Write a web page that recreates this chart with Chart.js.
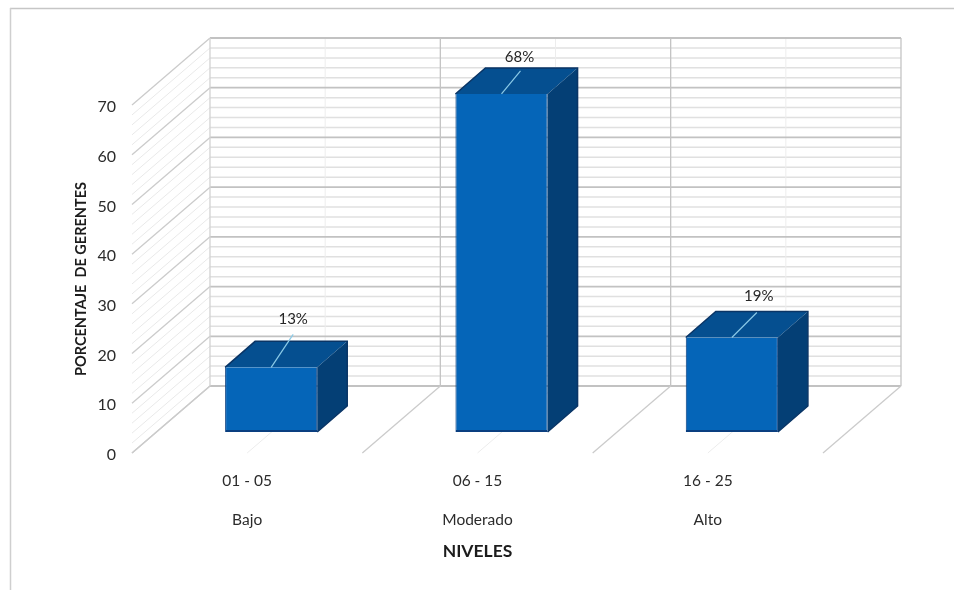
<!DOCTYPE html>
<html lang="es">
<head>
<meta charset="utf-8">
<title>Niveles</title>
<script src="https://cdn.jsdelivr.net/npm/chart.js@4"></script>
<style>
  html, body { margin: 0; padding: 0; background: #fff; }
  #wrap { position: relative; width: 954px; height: 590px; }
</style>
</head>
<body>
<div id="wrap"><canvas id="chart"></canvas></div>
<script>
// Porcentaje de gerentes por nivel, as a 3D-looking column chart.
const RANGES = ["01 - 05", "06 - 15", "16 - 25"];
const LEVELS = ["Bajo", "Moderado", "Alto"];
const PERCENT = [13, 68, 19];
const Y_TICKS_MAX = 70;
const Y_STEP = 10;
const MINOR_STEP = 2;

const FONT = "Lato, 'Open Sans', sans-serif";

// Projection of the box: the y scale lives on the front plane of the floor,
// the walls sit WALL_* behind it, the columns stand BAR_* into the floor.
const WALL_DX = 78, WALL_DY = -67;
const BAR_DX = 24, BAR_DY = -21;
const DEPTH_DX = 30, DEPTH_DY = -26;

// Where each leader line ends and its label sits, from the column's top centre.
const LEADERS = [
  { ex: 22, ey: -33, tx: 22, ty: -48 },
  { ex: 19, ey: -23, tx: 18, ty: -37 },
  { ex: 25, ey: -25, tx: 27, ty: -41 },
];

function seg(ctx, x1, y1, x2, y2, color, width) {
  ctx.beginPath();
  ctx.moveTo(x1, y1);
  ctx.lineTo(x2, y2);
  ctx.strokeStyle = color;
  ctx.lineWidth = width;
  ctx.stroke();
}

function poly(ctx, pts, fill) {
  ctx.beginPath();
  pts.forEach((p, i) => (i ? ctx.lineTo(p[0], p[1]) : ctx.moveTo(p[0], p[1])));
  ctx.closePath();
  ctx.fillStyle = fill;
  ctx.fill();
}

// Frame, back wall, side wall and floor, all taken from the chart's scales.
const wallsPlugin = {
  id: "walls",
  beforeDatasetsDraw(chart) {
    const { ctx, scales: { x, y }, chartArea: area, width, height } = chart;
    const left = area.left, right = area.right, bottom = area.bottom;
    const backL = left + WALL_DX, backR = right + WALL_DX;

    ctx.save();
    seg(ctx, 10, 8.5, width, 8.5, "#c6c6c6", 1.5);
    seg(ctx, 10.5, 8, 10.5, height, "#cfcfcf", 1.5);

    // minor lines first so the major ones land on top
    for (let v = 0; v <= Y_TICKS_MAX; v += MINOR_STEP) {
      if (v % Y_STEP === 0) continue;
      const py = y.getPixelForValue(v);
      seg(ctx, backL, py + WALL_DY, backR, py + WALL_DY, "#e0e0e0", 1.5);
      seg(ctx, left, py, backL, py + WALL_DY, "#e9e9e9", 1);
    }
    // faint centre lines of each category
    RANGES.forEach((_, i) => {
      const cx = x.getPixelForValue(i);
      seg(ctx, cx + WALL_DX, y.getPixelForValue(Y_TICKS_MAX) + WALL_DY, cx + WALL_DX, bottom + WALL_DY, "#ededed", 1);
      seg(ctx, cx, bottom, cx + WALL_DX, bottom + WALL_DY, "#ececec", 1);
    });
    for (let v = 0; v <= Y_TICKS_MAX; v += Y_STEP) {
      const py = y.getPixelForValue(v);
      seg(ctx, backL, py + WALL_DY, backR, py + WALL_DY, "#c2c2c2", 1.8);
      seg(ctx, left, py, backL, py + WALL_DY, "#cbcbcb", 1.3);
    }
    // category boundaries up the back wall and across the floor
    const top = y.getPixelForValue(Y_TICKS_MAX) + WALL_DY;
    const step = (right - left) / RANGES.length;
    for (let i = 0; i <= RANGES.length; i++) {
      const bx = left + step * i;
      seg(ctx, bx + WALL_DX, top, bx + WALL_DX, bottom + WALL_DY, i === 0 ? "#d2d2d2" : "#c4c4c4", 1.3);
      seg(ctx, bx, bottom, bx + WALL_DX, bottom + WALL_DY, "#cbcbcb", 1.3);
    }
    ctx.restore();
  },
  // the columns are native bars, shifted back onto their spot on the floor
  beforeDatasetDraw(chart) {
    const { ctx } = chart;
    ctx.save();
    ctx.translate(BAR_DX, BAR_DY);
    drawBoxSides(chart);
  },
  afterDatasetDraw(chart) {
    chart.ctx.restore();
    drawLeaders(chart);
  },
};

function drawBoxSides(chart) {
  const { ctx } = chart;
  chart.getDatasetMeta(0).data.forEach(bar => {
    const l = bar.x - bar.width / 2, r = bar.x + bar.width / 2;
    const t = bar.y, b = bar.base;
    poly(ctx, [[l, t], [r, t], [r + DEPTH_DX, t + DEPTH_DY], [l + DEPTH_DX, t + DEPTH_DY]], "#054f90");
    poly(ctx, [[r, t], [r + DEPTH_DX, t + DEPTH_DY], [r + DEPTH_DX, b + DEPTH_DY], [r, b]], "#043f75");
    // dark outline of the extruded part
    ctx.beginPath();
    ctx.moveTo(l, t);
    ctx.lineTo(l + DEPTH_DX, t + DEPTH_DY);
    ctx.lineTo(r + DEPTH_DX, t + DEPTH_DY);
    ctx.lineTo(r + DEPTH_DX, b + DEPTH_DY);
    ctx.lineTo(r, b);
    ctx.strokeStyle = "#0a3566";
    ctx.lineWidth = 1.5;
    ctx.stroke();
  });
}

function drawLeaders(chart) {
  const { ctx } = chart;
  ctx.save();
  ctx.textAlign = "center";
  ctx.textBaseline = "middle";
  ctx.font = "15px " + FONT;
  chart.getDatasetMeta(0).data.forEach((bar, i) => {
    const cx = bar.x + BAR_DX, cy = bar.y + BAR_DY;
    const m = LEADERS[i];
    seg(ctx, cx, cy, cx + m.ex, cy + m.ey, "#8ccbe8", 1.2);
    ctx.fillStyle = "#262626";
    ctx.fillText(PERCENT[i] + "%", cx + m.tx, cy + m.ty);
  });
  ctx.restore();
}

new Chart(document.getElementById("chart"), {
  type: "bar",
  data: {
    labels: RANGES.map((r, i) => [r, LEVELS[i]]),
    datasets: [{
      data: PERCENT,
      backgroundColor: "#0565b8",
      borderColor: "#0a3f80",
      borderWidth: { left: 1, right: 1, bottom: 2, top: 0 },
      borderSkipped: false,
      barPercentage: 0.4,
      categoryPercentage: 1,
      clip: false,
    }],
  },
  plugins: [wallsPlugin],
  options: {
    responsive: true, maintainAspectRatio: false, animation: false,
    layout: { padding: { top: 105, right: 131, left: 0, bottom: 0 } },
    plugins: { legend: { display: false }, tooltip: { enabled: false } },
    scales: {
      x: {
        afterFit: s => { s.height = 137; },
        grid: { display: false, drawTicks: false }, border: { display: false },
        ticks: {
          color: "#2b2b2b", padding: 8, maxRotation: 0, autoSkip: false,
          font: { family: FONT, size: 15.5, lineHeight: 39 / 15.5 },
        },
        title: {
          display: true, text: "NIVELES", color: "#1c1c1c",
          font: { family: FONT, size: 17.5, weight: "bold", lineHeight: 1.2 },
          padding: { top: 0, bottom: 28 },
        },
      },
      y: {
        min: 0, max: Y_TICKS_MAX,
        afterFit: s => { s.width = 132; },
        grid: { display: false, drawTicks: false }, border: { display: false },
        ticks: {
          color: "#2b2b2b", padding: 16, stepSize: Y_STEP, labelOffset: 2,
          font: { family: FONT, size: 16 },
        },
        title: {
          display: true, text: "PORCENTAJE  DE GERENTES", color: "#1c1c1c",
          font: { family: FONT, size: 14.5, weight: "bold", lineHeight: 1.2 },
          padding: { top: 73, bottom: 0 },
        },
      },
    },
  },
});
</script>
</body>
</html>
